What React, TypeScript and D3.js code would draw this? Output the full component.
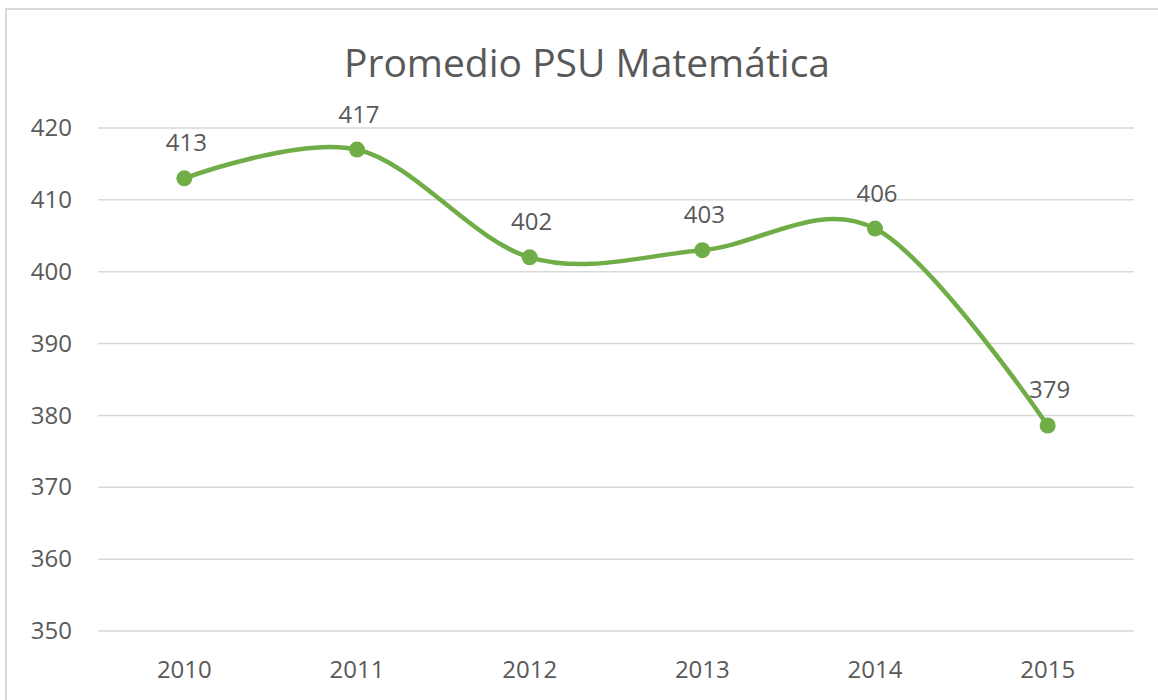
import React, { useRef, useEffect } from "react";
import * as d3 from "d3";

// chart data
const YEARS = ["2010", "2011", "2012", "2013", "2014", "2015"];
const PROMEDIO = [413, 417, 402, 403, 406, 378.6];
const Y_TICKS = [350, 360, 370, 380, 390, 400, 410, 420];
const TITLE = "Promedio PSU Matemática";

const W = 1158;
const H = 700;
const FONT = "'Open Sans', 'Liberation Sans', sans-serif";
const TEXT = "#595959";
const GREEN = "#70AD47";

function LineChart() {
  const svgRef = useRef<SVGSVGElement>(null);

  useEffect(() => {
    const svg = d3.select(svgRef.current);
    svg.selectAll("*").remove();

    // outer chart border (right and bottom run past the picture)
    svg.append("rect")
      .attr("x", 6)
      .attr("y", 9)
      .attr("width", W + 20)
      .attr("height", H + 20)
      .attr("fill", "#fff")
      .attr("stroke", "#d9d9d9")
      .attr("stroke-width", 2);

    const margin = { left: 98, right: 24, top: 128, bottom: 69 };

    const x = d3.scaleBand()
      .domain(YEARS)
      .range([margin.left, W - margin.right]);

    const y = d3.scaleLinear()
      .domain([350, 420])
      .range([H - margin.bottom, margin.top]);

    // gridlines
    svg.append("g")
      .selectAll("line")
      .data(Y_TICKS)
      .join("line")
      .attr("x1", margin.left)
      .attr("x2", W - margin.right)
      .attr("y1", (d) => y(d))
      .attr("y2", (d) => y(d))
      .attr("stroke", "#d9d9d9")
      .attr("stroke-width", 1.5);

    // y axis labels
    const yAxis = d3.axisLeft(y).tickValues(Y_TICKS).tickSize(0).tickPadding(26);
    const gy = svg.append("g")
      .attr("transform", `translate(${margin.left},0)`)
      .call(yAxis);
    gy.select(".domain").remove();
    gy.selectAll("text")
      .attr("fill", TEXT)
      .style("font-family", FONT)
      .style("font-size", "24px");

    // x axis labels
    const xAxis = d3.axisBottom(x).tickSize(0).tickPadding(30);
    const gx = svg.append("g")
      .attr("transform", `translate(0,${H - margin.bottom})`)
      .call(xAxis);
    gx.select(".domain").remove();
    gx.selectAll("text")
      .attr("fill", TEXT)
      .style("font-family", FONT)
      .style("font-size", "24px");

    const cx = (d: string) => (x(d) as number) + x.bandwidth() / 2;
    const pts: [number, number][] = YEARS.map((yr, i) => [cx(yr), y(PROMEDIO[i])]);

    // smoothed line like excel
    const lineGen = d3.line().curve(d3.curveCardinal.tension(0));
    svg.append("path")
      .attr("d", lineGen(pts))
      .attr("fill", "none")
      .attr("stroke", GREEN)
      .attr("stroke-width", 4.5)
      .attr("stroke-linecap", "round");

    svg.append("g")
      .selectAll("circle")
      .data(pts)
      .join("circle")
      .attr("cx", (d) => d[0])
      .attr("cy", (d) => d[1])
      .attr("r", 8)
      .attr("fill", GREEN);

    // data labels
    svg.append("g")
      .selectAll("text")
      .data(pts)
      .join("text")
      .attr("x", (d) => d[0] + 2)
      .attr("y", (d) => d[1] - 27)
      .attr("text-anchor", "middle")
      .attr("fill", TEXT)
      .style("font-family", FONT)
      .style("font-size", "24px")
      .text((d, i) => d3.format(".0f")(PROMEDIO[i]));

    // title
    svg.append("text")
      .attr("x", 587)
      .attr("y", 77)
      .attr("text-anchor", "middle")
      .attr("fill", TEXT)
      .style("font-family", FONT)
      .style("font-size", "39px")
      .text(TITLE);
  }, []);

  return (
    <svg
      ref={svgRef}
      width={W}
      height={H}
      style={{ position: "absolute", left: 0, top: 0, background: "#fff" }}
    />
  );
}

export default function App() {
  return <LineChart />;
}
